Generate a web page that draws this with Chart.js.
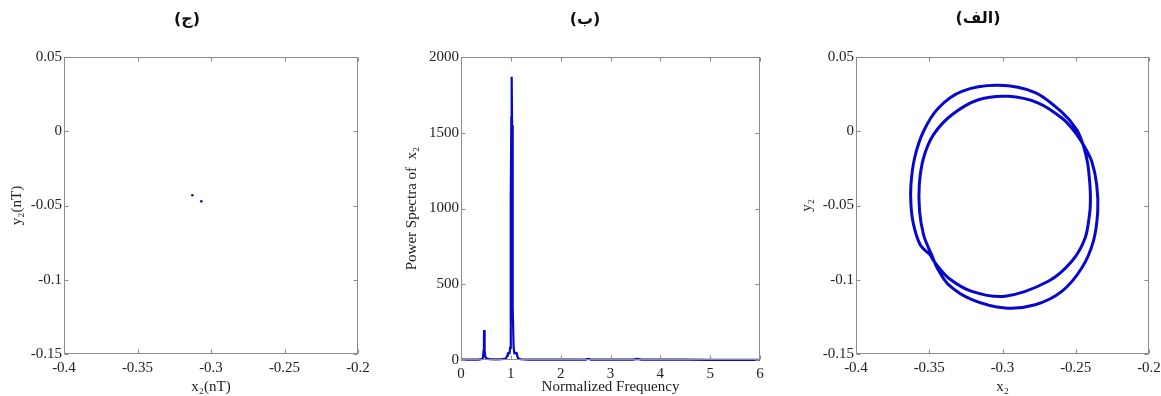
<!DOCTYPE html>
<html><head><meta charset="utf-8">
<script src="https://cdn.jsdelivr.net/npm/chart.js@4"></script>
<style>
html,body{margin:0;padding:0;background:#fff;overflow:hidden;width:1161px;height:396px;position:relative;}
canvas{position:absolute;top:0;}
</style></head><body>
<canvas id="c1" width="395" height="396" style="left:0px"></canvas>
<canvas id="c2" width="400" height="396" style="left:395px"></canvas>
<canvas id="c3" width="390" height="396" style="left:790px"></canvas>
<script>
// ---------- data ----------
const panelTitles = ['(ج)', '(ب)', '(الف)'];

// Panel (ج): Poincaré section points
const poincareX = [-0.3127, -0.3066];
const poincareY = [-0.0431, -0.0472];

// Panel (ب): power spectrum
const freq  = [0, 0.05, 0.15, 0.25, 0.35, 0.42, 0.44, 0.452, 0.46, 0.465, 0.47, 0.478, 0.49, 0.52, 0.58, 0.7, 0.82, 0.9, 0.925, 0.94, 0.955, 0.975, 0.985, 0.995, 1.003, 1.01, 1.017, 1.025, 1.033, 1.042, 1.055, 1.07, 1.09, 1.105, 1.118, 1.13, 1.15, 1.2, 1.35, 1.6, 2.0, 2.4, 2.5, 2.556, 2.61, 2.8, 3.2, 3.45, 3.54, 3.62, 4.0, 4.5, 5.0, 5.5, 6.0];
const power = [4, 3, 2, 2, 3, 6, 15, 60, 150, 198, 150, 60, 18, 9, 5, 4, 5, 10, 28, 44, 46, 45, 80, 400, 1100, 1600, 1870, 1550, 1000, 350, 90, 45, 44, 48, 50, 25, 10, 5, 3, 2, 2, 2, 3, 8, 3, 2, 2, 3, 7, 3, 2, 2, 1, 1, 1];

// Panel (الف): phase portrait (two loops of one period-2 orbit)
const loopX = [
  -0.3493, -0.3562, -0.3607, -0.3625, -0.3625, -0.3600, -0.3539, -0.3437, -0.3277, -0.3028, -0.2777, -0.2595, -0.2493, -0.2447, -0.2419, -0.2406, -0.2400, -0.2404, -0.2436, -0.2527, -0.2687, -0.2982, -0.3209, -0.3369, -0.3459, -0.3493,
  -0.3480, -0.3505, -0.3539, -0.3566, -0.3568, -0.3539, -0.3471, -0.3345, -0.3164, -0.2959, -0.2755, -0.2595, -0.2511, -0.2443, -0.2391, -0.2357, -0.2350, -0.2380, -0.2459, -0.2595, -0.2777, -0.2982, -0.3209, -0.3369, -0.3446, -0.3480
];
const loopY = [
  -0.0833, -0.0764, -0.0629, -0.0495, -0.0360, -0.0180, 0.0000, 0.0157, 0.0269, 0.0309, 0.0260, 0.0128, 0.0010, -0.0099, -0.0214, -0.0328, -0.0436, -0.0544, -0.0719, -0.0876, -0.1010, -0.1111, -0.1078, -0.0988, -0.0887, -0.0833,
  -0.0840, -0.0786, -0.0697, -0.0539, -0.0360, -0.0180, -0.0023, 0.0111, 0.0212, 0.0235, 0.0190, 0.0089, 0.0002, -0.0099, -0.0202, -0.0360, -0.0539, -0.0741, -0.0921, -0.1078, -0.1168, -0.1190, -0.1134, -0.1033, -0.0921, -0.0840
];

// tick values / labels
const xPhaseTicks = [-0.4, -0.35, -0.3, -0.25, -0.2];
const xPhaseLabels = ['-0.4', '-0.35', '-0.3', '-0.25', '-0.2'];
const yPhaseTicks = [-0.15, -0.1, -0.05, 0, 0.05];
const yPhaseLabels = ['-0.15', '-0.1', '-0.05', '0', '0.05'];
const freqTicks = [0, 1, 2, 3, 4, 5, 6];
const freqLabels = ['0', '1', '2', '3', '4', '5', '6'];
const powerTicks = [0, 500, 1000, 1500, 2000];
const powerLabels = ['0', '500', '1000', '1500', '2000'];

// ---------- styling ----------
Chart.defaults.font.family = "'Liberation Serif', 'Times New Roman', serif";
Chart.defaults.font.size = 15;
Chart.defaults.color = '#222';

const FRAME = '#8c8c8c';
const BLUE = 'rgb(8,8,205)';

const framePlugin = {
  id: 'frame',
  afterDraw(chart, args, opts) {
    const {ctx, chartArea: a, scales} = chart;
    ctx.save();
    ctx.strokeStyle = FRAME;
    ctx.lineWidth = 1;
    const l = Math.round(a.left) + 0.5, r = Math.round(a.right) - 0.5;
    const t = Math.round(a.top) + 0.5, b = Math.round(a.bottom) - 0.5;
    ctx.strokeRect(l, t, r - l, b - t);
    const L = 4;
    ctx.beginPath();
    scales.x.ticks.forEach(tk => {
      const p = Math.round(scales.x.getPixelForValue(tk.value)) + 0.5;
      ctx.moveTo(p, b); ctx.lineTo(p, b - L);
      ctx.moveTo(p, t); ctx.lineTo(p, t + L);
    });
    scales.y.ticks.forEach(tk => {
      const p = Math.round(scales.y.getPixelForValue(tk.value)) + 0.5;
      ctx.moveTo(l, p); ctx.lineTo(l + L, p);
      ctx.moveTo(r, p); ctx.lineTo(r - L, p);
    });
    ctx.stroke();
    if (opts.text) {
      ctx.font = "bold 16px 'DejaVu Sans', sans-serif";
      ctx.fillStyle = '#111';
      ctx.textAlign = 'center';
      ctx.textBaseline = 'middle';
      ctx.fillText(opts.text, opts.x, opts.y);
    }
    ctx.restore();
  }
};

function axis(min, max, values, labels, titleText, titlePad, fitSize, horizontal) {
  return {
    type: 'linear',
    min: min, max: max,
    grid: {display: false, drawTicks: false},
    border: {display: false},
    afterBuildTicks: s => { s.ticks = values.map(v => ({value: v})); },
    afterFit: s => { if (horizontal) s.height = fitSize; else s.width = fitSize; },
    ticks: {
      padding: horizontal ? 5 : 2,
      autoSkip: false,
      maxRotation: 0,
      callback: (v, i) => labels[i]
    },
    title: {display: true, text: titleText, padding: titlePad, color: '#222', font: {size: 15}}
  };
}

function commonOptions(padRight, titleCfg) {
  return {
    responsive: false,
    animation: false,
    devicePixelRatio: 1,
    layout: {padding: {left: 0, right: padRight, top: 57, bottom: 0}},
    plugins: {legend: {display: false}, tooltip: {enabled: false}, frame: titleCfg}
  };
}

// Panel (ج)
new Chart(document.getElementById('c1'), {
  type: 'scatter',
  data: {datasets: [{
    data: poincareX.map((x, i) => ({x: x, y: poincareY[i]})),
    pointRadius: 1.3, pointBorderWidth: 0,
    backgroundColor: 'rgb(20,20,140)'
  }]},
  options: Object.assign(commonOptions(37, {text: panelTitles[0], x: 187, y: 20}), {
    scales: {
      x: axis(-0.4, -0.2, xPhaseTicks, xPhaseLabels, 'x₂(nT)', {top: 6, bottom: 0}, 42, true),
      y: axis(-0.15, 0.05, yPhaseTicks, yPhaseLabels, 'y₂(nT)', 8, 64, false)
    }
  }),
  plugins: [framePlugin]
});

// Panel (ب)
new Chart(document.getElementById('c2'), {
  type: 'scatter',
  data: {datasets: [{
    data: freq.map((f, i) => ({x: f, y: power[i]})),
    showLine: true, tension: 0,
    borderColor: BLUE, borderWidth: 2.2,
    pointRadius: 0, fill: false, clip: 3
  }]},
  options: Object.assign(commonOptions(35, {text: panelTitles[1], x: 190, y: 20}), {
    scales: {
      x: axis(0, 6, freqTicks, freqLabels, 'Normalized Frequency', {top: 0, bottom: 0}, 36, true),
      y: axis(0, 2000, powerTicks, powerLabels, 'Power Spectra of  x₂', 8, 66, false)
    }
  }),
  plugins: [framePlugin]
});

// Panel (الف)
new Chart(document.getElementById('c3'), {
  type: 'scatter',
  data: {datasets: [{
    data: loopX.map((x, i) => ({x: x, y: loopY[i]})),
    showLine: true, tension: 0.3,
    borderColor: BLUE, borderWidth: 3,
    pointRadius: 0, fill: false
  }]},
  options: Object.assign(commonOptions(31, {text: panelTitles[2], x: 188, y: 19}), {
    scales: {
      x: axis(-0.4, -0.2, xPhaseTicks, xPhaseLabels, 'x₂', {top: 6, bottom: 0}, 42, true),
      y: axis(-0.15, 0.05, yPhaseTicks, yPhaseLabels, 'y₂', 8, 66, false)
    }
  }),
  plugins: [framePlugin]
});
</script>
</body></html>
